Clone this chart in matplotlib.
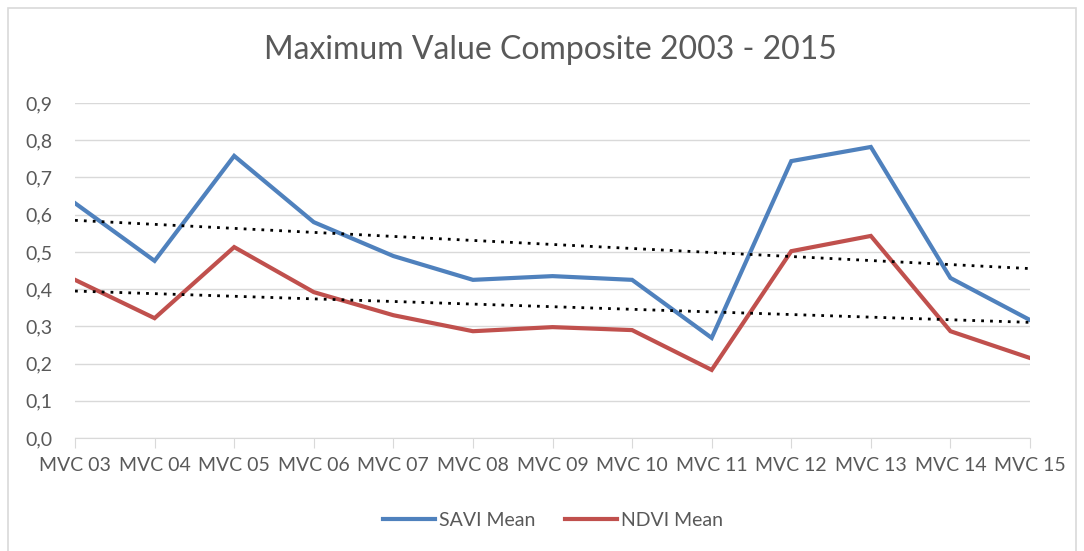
import numpy as np
import matplotlib
matplotlib.use('Agg')
import matplotlib.pyplot as plt
from matplotlib.patches import Rectangle
from matplotlib.ticker import FuncFormatter

# data
categories = ['MVC 03', 'MVC 04', 'MVC 05', 'MVC 06', 'MVC 07', 'MVC 08', 'MVC 09',
              'MVC 10', 'MVC 11', 'MVC 12', 'MVC 13', 'MVC 14', 'MVC 15']
savi_mean = [0.631, 0.476, 0.758, 0.580, 0.489, 0.425, 0.435, 0.425, 0.269, 0.744, 0.782, 0.430, 0.317]
ndvi_mean = [0.425, 0.322, 0.513, 0.392, 0.330, 0.287, 0.298, 0.290, 0.183, 0.502, 0.543, 0.287, 0.215]
y_ticks = [0.0, 0.1, 0.2, 0.3, 0.4, 0.5, 0.6, 0.7, 0.8, 0.9]

BLUE = '#4F81BD'
RED = '#C0504D'
TEXT = '#595959'
GRID = '#D9D9D9'

plt.rcParams['font.family'] = ['Lato', 'DejaVu Sans']

fig = plt.figure(figsize=(10.84, 5.51), dpi=100)
ax = fig.add_axes([0.0692, 0.205, 0.881, 0.608])

# chart border
fig.patches.append(Rectangle((8 / 1084, -0.01), 1068 / 1084, 1 - 8 / 551 + 0.01,
                             transform=fig.transFigure, fill=False,
                             edgecolor=GRID, linewidth=1.2))

x = np.arange(len(categories))
ax.plot(x, savi_mean, color=BLUE, linewidth=3, label='SAVI Mean', solid_joinstyle='miter', zorder=3)
ax.plot(x, ndvi_mean, color=RED, linewidth=3, label='NDVI Mean', solid_joinstyle='miter', zorder=3)

# linear trendlines (like Excel)
for series in (savi_mean, ndvi_mean):
    k, b = np.polyfit(x, series, 1)
    ax.plot(x, k * x + b, color='black', linestyle=(0, (1, 2.2)), linewidth=2, zorder=4)

ax.set_xlim(0, len(categories) - 1)
ax.set_ylim(0, 0.9)
ax.set_yticks(y_ticks)
ax.yaxis.set_major_formatter(FuncFormatter(lambda v, p: f'{v:.1f}'.replace('.', ',')))
ax.set_xticks(x)
ax.set_xticklabels(categories)

ax.grid(axis='y', color=GRID, linewidth=1)
ax.set_axisbelow(True)
for s in ('top', 'right', 'left'):
    ax.spines[s].set_visible(False)
ax.spines['bottom'].set_color(GRID)
ax.tick_params(axis='y', length=0, pad=16, labelsize=14, labelcolor=TEXT)
ax.tick_params(axis='x', length=7, color=GRID, pad=7, labelsize=14, labelcolor=TEXT, direction='out')

fig.text(0.508, 0.909, 'Maximum Value Composite 2003 - 2015', ha='center', va='center',
         fontsize=23, color=TEXT)

fig.legend(loc='center', bbox_to_anchor=(0.51, 0.055), ncol=2, frameon=False,
           fontsize=14, labelcolor=TEXT, handlelength=2.7, handletextpad=0.2, columnspacing=1.5)

plt.savefig('out.png', dpi=100)
plt.close()
